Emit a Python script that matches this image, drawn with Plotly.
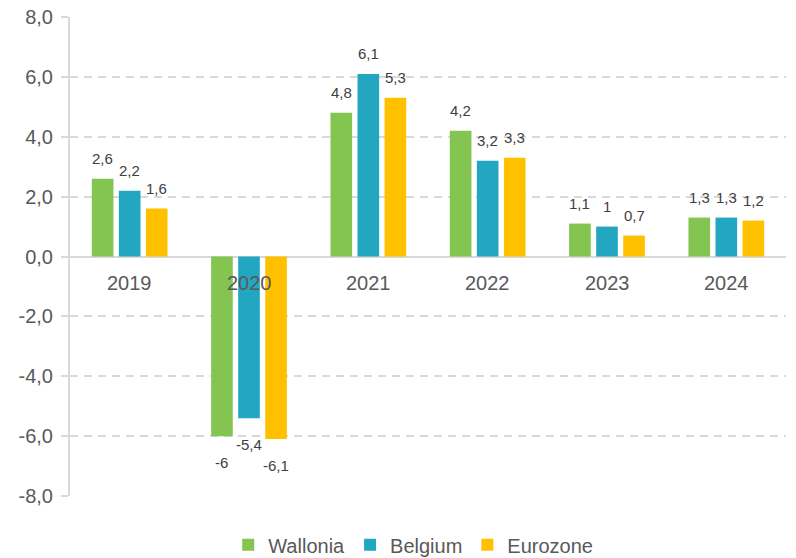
import plotly.graph_objects as go

years = ["2019", "2020", "2021", "2022", "2023", "2024"]
wallonia = [2.6, -6.0, 4.8, 4.2, 1.1, 1.3]
belgium = [2.2, -5.4, 6.1, 3.2, 1.0, 1.3]
eurozone = [1.6, -6.1, 5.3, 3.3, 0.7, 1.2]
series_names = ["Wallonia", "Belgium", "Eurozone"]
colors = ["#84C450", "#23A7C1", "#FFC000"]
y_ticks = [-8, -6, -4, -2, 0, 2, 4, 6, 8]

def fmt(v):
    return ("%g" % v).replace(".", ",")

FONT = "Liberation Sans, Arial"
W, H = 796, 558
ml, mr, mt, mb = 70, 10, 17, 62
bargap = 0.32
bargroupgap = 0.2

fig = go.Figure()
all_series = [wallonia, belgium, eurozone]
for name, vals, col in zip(series_names, all_series, colors):
    fig.add_trace(go.Bar(
        x=years, y=vals, name=name,
        marker=dict(color=col, line=dict(width=0)),
        hoverinfo="x+y",
    ))

plot_w = W - ml - mr
cat_w = plot_w / len(years)
slot = (1 - bargap) * cat_w / 3
annotations = []
for i, vals in enumerate(all_series):
    xs = (i - 1) * slot
    for ci, v in enumerate(vals):
        annotations.append(dict(
            x=ci, y=v, xref="x", yref="y", text=fmt(v), showarrow=False,
            xshift=xs, yshift=20 if v >= 0 else -26,
            font=dict(family=FONT, size=15, color="#404040"),
        ))
for ci, yr in enumerate(years):
    annotations.append(dict(
        x=ci, y=0, xref="x", yref="y", text=yr, showarrow=False,
        yshift=-26,
        font=dict(family=FONT, size=20, color="#595959"),
    ))

fig.update_layout(
    width=W, height=H,
    margin=dict(l=ml, r=mr, t=mt, b=mb, autoexpand=False),
    paper_bgcolor="white", plot_bgcolor="white",
    barmode="group", bargap=bargap, bargroupgap=bargroupgap,
    annotations=annotations,
    font=dict(family=FONT, color="#595959"),
    legend=dict(
        orientation="h", x=0.221, xanchor="left", y=-0.102, yanchor="middle",
        font=dict(size=20, color="#595959"),
        itemwidth=30, traceorder="normal",
    ),
    showlegend=True,
)
fig.update_xaxes(
    type="category", range=[-0.5, len(years) - 0.5],
    showticklabels=False, showgrid=False, zeroline=False, showline=False,
    ticks="",
)
fig.update_yaxes(
    range=[-8, 8], tickvals=y_ticks,
    ticktext=[("%.1f" % t).replace(".", ",") for t in y_ticks],
    tickfont=dict(size=20, color="#595959"),
    showgrid=True, gridcolor="#D9D9D9", griddash="8px,6px", gridwidth=2,
    zeroline=True, zerolinecolor="#D9D9D9", zerolinewidth=2,
    showline=True, linecolor="#D9D9D9", linewidth=2,
    ticks="outside", ticklen=7, tickcolor="#D9D9D9", tickwidth=2,
    ticklabelstandoff=4,
)

fig.write_html("out.html", config={"displayModeBar": False},
               post_script="document.body.style.margin='0px';")
